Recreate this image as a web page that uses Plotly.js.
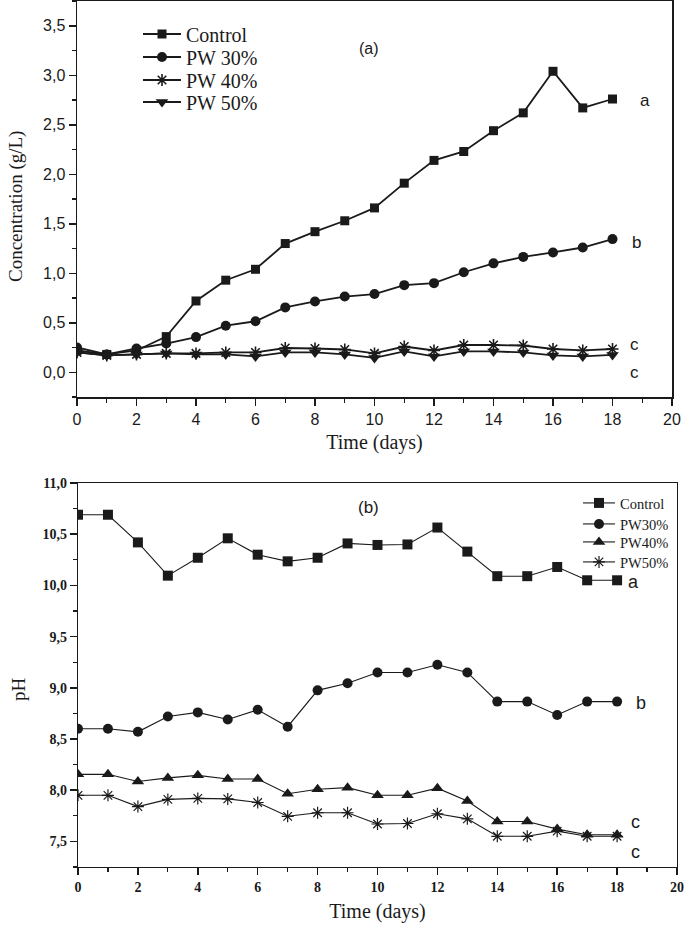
<!DOCTYPE html>
<html>
<head>
<meta charset="utf-8">
<script src="https://cdn.plot.ly/plotly-3.0.1.min.js"></script>
<style>html,body{margin:0;padding:0;background:#fff;}#chart{width:685px;height:925px;}</style>
</head>
<body>
<div id="chart"></div>
<script>
// ---- Data: (a) concentration (g/L) ----
const days = [0,1,2,3,4,5,6,7,8,9,10,11,12,13,14,15,16,17,18];
const concControl = [0.22,0.18,0.22,0.36,0.72,0.93,1.04,1.30,1.42,1.53,1.66,1.91,2.14,2.23,2.44,2.62,3.04,2.67,2.76];
const concPW30    = [0.25,0.18,0.24,0.29,0.355,0.47,0.515,0.655,0.715,0.765,0.79,0.88,0.90,1.01,1.10,1.165,1.21,1.26,1.345];
const concPW40    = [0.20,0.17,0.18,0.19,0.19,0.20,0.20,0.245,0.24,0.23,0.19,0.26,0.22,0.275,0.275,0.27,0.235,0.22,0.235];
const concPW50    = [0.20,0.17,0.18,0.19,0.18,0.18,0.16,0.20,0.20,0.18,0.145,0.21,0.16,0.21,0.21,0.20,0.17,0.16,0.175];
const concNames   = ["Control","PW 30%","PW 40%","PW 50%"];

// ---- Data: (b) pH ----
const phControl = [10.69,10.69,10.42,10.095,10.27,10.46,10.30,10.235,10.27,10.41,10.395,10.40,10.565,10.33,10.09,10.09,10.18,10.05,10.05];
const phPW30    = [8.60,8.60,8.57,8.72,8.76,8.69,8.785,8.62,8.975,9.045,9.15,9.15,9.225,9.15,8.865,8.865,8.735,8.865,8.865];
const phPW40    = [8.155,8.155,8.085,8.12,8.145,8.11,8.11,7.965,8.01,8.025,7.95,7.95,8.02,7.895,7.695,7.695,7.62,7.565,7.565];
const phPW50    = [7.95,7.95,7.84,7.91,7.92,7.915,7.88,7.745,7.78,7.78,7.67,7.675,7.77,7.72,7.55,7.55,7.60,7.55,7.55];
const phNames   = ["Control","PW30%","PW40%","PW50%"];

const sigA = [{t:"a",x:19.1,y:2.74},{t:"b",x:18.8,y:1.31},{t:"c",x:18.75,y:0.28},{t:"c",x:18.75,y:0.0}];
const sigB = [{t:"a",x:18.55,y:10.03},{t:"b",x:18.8,y:8.855},{t:"c",x:18.6,y:7.69},{t:"c",x:18.6,y:7.40}];

const ink = "#1a1a1a";
const serif = "Liberation Serif, Times New Roman, serif";
const sans = "Liberation Sans, Arial, sans-serif";

function tr(y, name, sym, size, xa, ya, lg, lw, extraLine){
  return {x: days, y: y, name: name, type: "scatter", mode: "lines+markers",
    xaxis: xa, yaxis: ya, legend: lg,
    line: {color: ink, width: lw},
    marker: {symbol: sym, size: size, color: ink, line: {color: ink, width: extraLine || 0}}};
}

const traces = [
  tr(concControl, concNames[0], "square", 9, "x", "y", "legend", 1.8),
  tr(concPW30, concNames[1], "circle", 10, "x", "y", "legend3", 1.8),
  tr(concPW40, concNames[2], "asterisk-open", 10, "x", "y", "legend4", 1.8, 1.6),
  tr(concPW50, concNames[3], "triangle-down", 11, "x", "y", "legend5", 1.8),
  tr(phControl, phNames[0], "square", 10, "x2", "y2", "legend2", 1.1),
  tr(phPW30, phNames[1], "circle", 10, "x2", "y2", "legend6", 1.1),
  tr(phPW40, phNames[2], "triangle-up", 11, "x2", "y2", "legend7", 1.1),
  tr(phPW50, phNames[3], "asterisk-open", 10, "x2", "y2", "legend8", 1.1, 1.2)
];

function axis(extra){
  return Object.assign({
    showline: true, mirror: true, linecolor: ink, linewidth: 1.5,
    ticks: "outside", ticklen: 7, tickwidth: 1.5, tickcolor: ink,
    showgrid: false, zeroline: false, fixedrange: true
  }, extra);
}

const W = 685, H = 925;
const ann = [];
sigA.forEach(s => ann.push({x:s.x, y:s.y, xref:"x", yref:"y", text:s.t, showarrow:false, font:{family:sans, size:17, color:ink}}));
sigB.forEach(s => ann.push({x:s.x, y:s.y, xref:"x2", yref:"y2", text:s.t, showarrow:false, font:{family:sans, size:18, color:ink}}));
ann.push({x:9.8, y:3.27, xref:"x", yref:"y", text:"(a)", showarrow:false, font:{family:sans, size:16, color:ink}});
ann.push({x:9.7, y:10.76, xref:"x2", yref:"y2", text:"(b)", showarrow:false, font:{family:sans, size:17, color:ink}});
// y-axis titles
ann.push({x:16/W, y:1-207/H, xref:"paper", yref:"paper", xanchor:"center", yanchor:"middle",
  text:"Concentration (g/L)", textangle:-90, showarrow:false, font:{family:serif, size:19, color:ink}});
ann.push({x:18/W, y:1-689/H, xref:"paper", yref:"paper", xanchor:"center", yanchor:"middle",
  text:"pH", textangle:-90, showarrow:false, font:{family:serif, size:19, color:ink}});

function lg(xpx, ypx, size, iw){
  return {x:xpx/W, y:1-ypx/H, xanchor:"left", yanchor:"middle", bgcolor:"rgba(0,0,0,0)",
    font:{family:serif, size:size, color:ink}, itemwidth:iw, itemsizing:"trace", borderwidth:0};
}
const topRows = [34, 57, 80, 102];
const botRows = [503, 524, 542, 562];

const layout = {
  width: W, height: H,
  margin: {l:0, r:0, t:0, b:0},
  paper_bgcolor: "#fff", plot_bgcolor: "#fff",
  separators: ",.",
  showlegend: true,
  xaxis: axis({domain:[77/W, 672/W], anchor:"y", range:[0,20], dtick:2, tick0:0,
    minor:{dtick:1, ticklen:4, tickwidth:1.2, tickcolor:ink, ticks:"outside"},
    tickfont:{family:sans, size:16, color:ink},
    title:{text:"Time (days)", font:{family:serif, size:20, color:ink}, standoff:8}}),
  yaxis: axis({domain:[(H-397)/H, (H-1)/H], anchor:"x", range:[-0.25,3.75], dtick:0.5, tick0:0, tickformat:".1f",
    minor:{dtick:0.25, tick0:0, ticklen:4, tickwidth:1.2, tickcolor:ink, ticks:"outside"},
    tickfont:{family:sans, size:16, color:ink}}),
  xaxis2: axis({domain:[78/W, 677/W], anchor:"y2", range:[0,20], dtick:2, tick0:0, linewidth:1.3,
    minor:{dtick:1, ticklen:4, tickwidth:1.2, tickcolor:ink, ticks:"outside"},
    tickfont:{family:serif, size:14, color:ink, weight:"bold"},
    title:{text:"Time (days)", font:{family:serif, size:20, color:ink}, standoff:10}}),
  yaxis2: axis({domain:[(H-867)/H, (H-483)/H], anchor:"x2", range:[7.25,11.0], dtick:0.5, tick0:7.5, tickformat:".1f", linewidth:1.3,
    minor:{dtick:0.25, tick0:7.25, ticklen:4, tickwidth:1.2, tickcolor:ink, ticks:"outside"},
    tickfont:{family:serif, size:14, color:ink, weight:"bold"}}),
  legend:  lg(138, topRows[0], 20, 38),
  legend3: lg(138, topRows[1], 20, 38),
  legend4: lg(138, topRows[2], 20, 38),
  legend5: lg(138, topRows[3], 20, 38),
  legend2: lg(578, botRows[0], 14.5, 32),
  legend6: lg(578, botRows[1], 14.5, 32),
  legend7: lg(578, botRows[2], 14.5, 32),
  legend8: lg(578, botRows[3], 14.5, 32),
  annotations: ann
};

Plotly.newPlot("chart", traces, layout, {staticPlot:true, displayModeBar:false});
</script>
</body>
</html>
